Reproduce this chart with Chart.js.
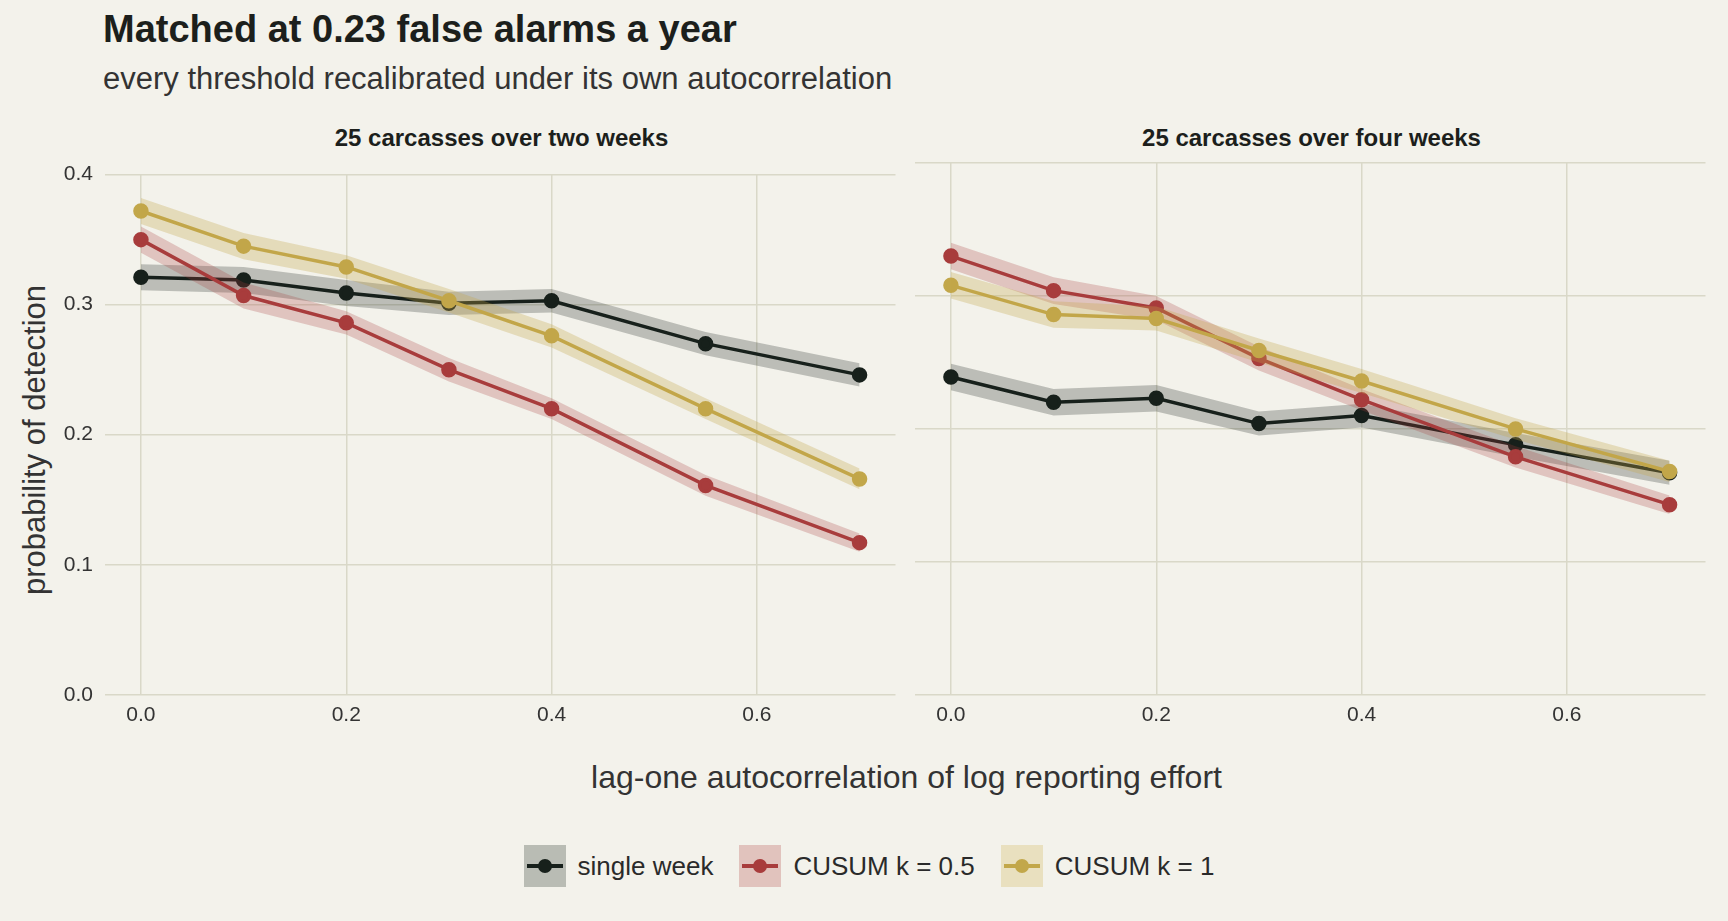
<!DOCTYPE html>
<html><head><meta charset="utf-8">
<script src="https://cdn.jsdelivr.net/npm/chart.js@4"></script>
<style>
body{margin:0;background:#f3f2eb;width:1728px;height:921px;overflow:hidden;font-family:"Liberation Sans",Arial,sans-serif;color:#1c1f1c;position:relative}
.t{position:absolute;white-space:nowrap}
canvas{position:absolute}
.leg{position:absolute;top:845px;left:0;width:1728px;display:flex;justify-content:center;align-items:center;font-size:26px;color:#2a2a2a}
.key{width:42px;height:42px;position:relative;margin:0 12px 0 10px}
.key i{position:absolute;left:3px;right:3px;top:19px;height:4px}
.key b{position:absolute;left:14px;top:14px;width:14px;height:14px;border-radius:50%}
</style></head><body>
<div class="t" style="left:103px;top:8px;font-size:38px;font-weight:bold">Matched at 0.23 false alarms a year</div>
<div class="t" style="left:103px;top:61px;font-size:31px;color:#333">every threshold recalibrated under its own autocorrelation</div>
<div class="t" style="left:105px;width:793px;top:124px;text-align:center;font-size:24px;font-weight:bold">25 carcasses over two weeks</div>
<div class="t" style="left:915px;width:793px;top:124px;text-align:center;font-size:24px;font-weight:bold">25 carcasses over four weeks</div>
<div class="t" style="left:5px;top:440px;font-size:31px;color:#333;transform:translate(-50%,-50%) rotate(-90deg);margin-left:30px">probability of detection</div>
<div class="t" style="left:105px;width:1603px;top:759px;text-align:center;font-size:32px;color:#333">lag-one autocorrelation of log reporting effort</div>
<canvas id="c1" style="left:20px;top:150px;width:885px;height:586px"></canvas>
<canvas id="c2" style="left:905px;top:150px;width:810px;height:586px"></canvas>
<div class="leg">
 <div class="key" style="background:#b9bcb4"><i style="background:#17201b"></i><b style="background:#17201b"></b></div><span style="margin-right:16px">single week</span>
 <div class="key" style="background:#e1c3bd"><i style="background:#a83c3c"></i><b style="background:#a83c3c"></b></div><span style="margin-right:16px">CUSUM k = 0.5</span>
 <div class="key" style="background:#e9e0bf"><i style="background:#c2a74a"></i><b style="background:#c2a74a"></b></div><span>CUSUM k = 1</span>
</div>
<script>
// autocorrelation levels
const rho = [0, 0.1, 0.2, 0.3, 0.4, 0.55, 0.7];

// two weeks panel
const twoSingle = [0.321, 0.319, 0.309, 0.301, 0.303, 0.270, 0.246];
const twoCusum05 = [0.350, 0.307, 0.286, 0.250, 0.220, 0.161, 0.117];
const twoCusum1 = [0.372, 0.345, 0.329, 0.303, 0.276, 0.220, 0.166];
// four weeks panel
const fourSingle = [0.239, 0.220, 0.223, 0.204, 0.210, 0.188, 0.167];
const fourCusum05 = [0.330, 0.304, 0.291, 0.253, 0.222, 0.179, 0.143];
const fourCusum1 = [0.308, 0.286, 0.283, 0.259, 0.236, 0.200, 0.168];
// band half-widths (approx. standard errors read off ribbons)
const seSingle = [0.010, 0.010, 0.010, 0.009, 0.009, 0.009, 0.009];
const seCusum05 = [0.010, 0.010, 0.009, 0.009, 0.008, 0.008, 0.007];
const seCusum1 = [0.010, 0.010, 0.009, 0.009, 0.009, 0.008, 0.008];

const xTicks = [0, 0.2, 0.4, 0.6];
const yTicks = [0, 0.1, 0.2, 0.3, 0.4];

const grid = '#d9d8c8';
const font = {family: '"Liberation Sans", Arial, sans-serif', size: 21};

function series(vals, se, line, band) {
  const pts = v => vals.map((y, i) => ({x: rho[i], y: y + v * se[i]}));
  return [
    {data: pts(1), borderWidth: 0, pointRadius: 0, fill: '+1', backgroundColor: band},
    {data: pts(-1), borderWidth: 0, pointRadius: 0, fill: false},
    {data: pts(0), borderColor: line, backgroundColor: line, borderWidth: 3.5,
     pointRadius: 6, pointHoverRadius: 6, fill: false}
  ];
}

function makeChart(id, single, c05, c1, showY) {
  const datasets = [
    ...series(c1, seCusum1, '#c2a74a', 'rgba(194,167,74,0.3)'),
    ...series(c05, seCusum05, '#a83c3c', 'rgba(168,60,60,0.25)'),
    ...series(single, seSingle, '#17201b', 'rgba(23,32,27,0.25)')
  ];
  new Chart(document.getElementById(id), {
    type: 'line',
    data: {datasets},
    options: {
      animation: false, responsive: false, devicePixelRatio: 1,
      layout: {padding: {top: showY ? 3 : 13, right: 7, left: showY ? 0 : 10}},
      plugins: {legend: {display: false}, tooltip: {enabled: false}},
      scales: {
        x: {type: 'linear', min: -0.035, max: 0.735,
          afterBuildTicks: a => { a.ticks = xTicks.map(v => ({value: v})); },
          ticks: {font, color: '#333', callback: v => v.toFixed(1), padding: 8},
          grid: {color: grid, lineWidth: 1.5, drawTicks: false}, border: {display: false}},
        y: {min: 0, max: 0.4, display: true,
          afterBuildTicks: a => { a.ticks = yTicks.map(v => ({value: v})); },
          afterFit: a => { a.width = showY ? 85 : 0; },
          ticks: {display: showY, font, color: '#333', callback: v => v.toFixed(1), padding: 12},
          grid: {color: grid, lineWidth: 1.5, drawTicks: false}, border: {display: false}}
      }
    }
  });
}

function size(id, w, h) { const c = document.getElementById(id); c.width = w; c.height = h; }
size('c1', 885, 586); size('c2', 810, 586);
makeChart('c1', twoSingle, twoCusum05, twoCusum1, true);
makeChart('c2', fourSingle, fourCusum05, fourCusum1, false);
</script>
</body></html>
